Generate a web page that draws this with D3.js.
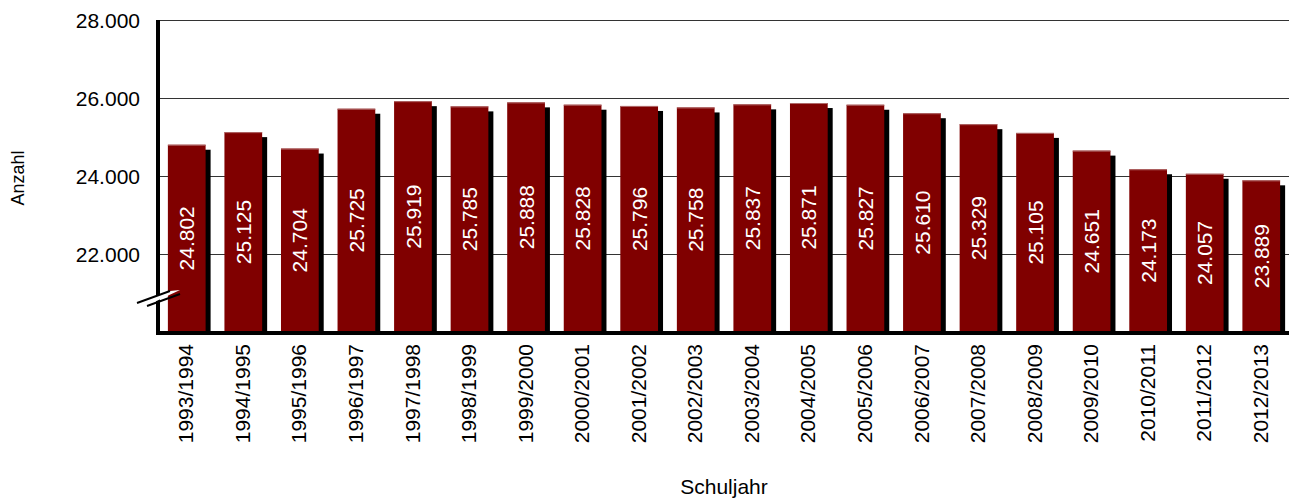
<!DOCTYPE html>
<html>
<head>
<meta charset="utf-8">
<script src="https://cdn.jsdelivr.net/npm/d3@7"></script>
<style>
    body { margin: 0; background: #fff; }
    text { font-family: "Liberation Sans", Arial, sans-serif; }
</style>
</head>
<body>
<div id="chart"></div>
<script>
// school years and pupil counts
const years = ["1993/1994", "1994/1995", "1995/1996", "1996/1997", "1997/1998", "1998/1999",
    "1999/2000", "2000/2001", "2001/2002", "2002/2003", "2003/2004", "2004/2005", "2005/2006",
    "2006/2007", "2007/2008", "2008/2009", "2009/2010", "2010/2011", "2011/2012", "2012/2013"];
const counts = [24802, 25125, 24704, 25725, 25919, 25785, 25888, 25828, 25796, 25758,
    25837, 25871, 25827, 25610, 25329, 25105, 24651, 24173, 24057, 23889];
const yTicks = [22000, 24000, 26000, 28000];

const width = 1289, height = 499;
const plotLeft = 159, plotRight = 1289, plotTop = 20, base = 332;

const de = d3.formatLocale({ decimal: ",", thousands: ".", grouping: [3], currency: ["", " €"] });
const fmt = de.format(",d");

const svg = d3.select("#chart")
    .append("svg")
    .attr("width", width)
    .attr("height", height);

const x = d3.scaleBand()
    .domain(years)
    .range([plotLeft, plotRight])
    .paddingInner(0.333)
    .paddingOuter(0.157);

const y = d3.scaleLinear()
    .domain([20000, 28000])
    .range([base, plotTop]);

const data = years.map((yr, i) => ({ year: yr, value: counts[i] }));

// gridlines
svg.append("g")
    .selectAll("line")
    .data(yTicks)
    .enter()
    .append("line")
    .attr("x1", plotLeft)
    .attr("x2", plotRight)
    .attr("y1", (d) => Math.round(y(d)) + 0.5)
    .attr("y2", (d) => Math.round(y(d)) + 0.5)
    .attr("stroke", "#333")
    .attr("stroke-width", 1);

// y tick labels
svg.append("g")
    .selectAll("text")
    .data(yTicks)
    .enter()
    .append("text")
    .attr("x", 140)
    .attr("y", (d) => y(d))
    .attr("dy", "0.36em")
    .attr("text-anchor", "end")
    .attr("font-size", 21)
    .attr("fill", "#000")
    .text((d) => fmt(d));

// shadows
svg.append("g")
    .selectAll("rect")
    .data(data)
    .enter()
    .append("rect")
    .attr("x", (d) => x(d.year) + 5)
    .attr("y", (d) => y(d.value) + 5)
    .attr("width", x.bandwidth())
    .attr("height", (d) => base - y(d.value) - 5)
    .attr("fill", "#000");

// bars
svg.append("g")
    .selectAll("rect")
    .data(data)
    .enter()
    .append("rect")
    .attr("x", (d) => x(d.year))
    .attr("y", (d) => y(d.value))
    .attr("width", x.bandwidth())
    .attr("height", (d) => base - y(d.value))
    .attr("fill", "#800000");

// thin light edge on bar tops
svg.append("g")
    .selectAll("line")
    .data(data)
    .enter()
    .append("line")
    .attr("x1", (d) => x(d.year))
    .attr("x2", (d) => x(d.year) + x.bandwidth())
    .attr("y1", (d) => y(d.value) + 0.5)
    .attr("y2", (d) => y(d.value) + 0.5)
    .attr("stroke", "#b06a6a")
    .attr("stroke-width", 1);

// value labels inside bars
svg.append("g")
    .selectAll("text")
    .data(data)
    .enter()
    .append("text")
    .attr("transform", (d) => {
        const cx = x(d.year) + x.bandwidth() / 2;
        const cy = (y(d.value) + base) / 2;
        return `translate(${cx},${cy}) rotate(-90)`;
    })
    .attr("dy", "0.36em")
    .attr("text-anchor", "middle")
    .attr("font-size", 21)
    .attr("fill", "#fff")
    .text((d) => fmt(d.value));

// axes (thick black)
svg.append("line")
    .attr("x1", 158).attr("x2", 158)
    .attr("y1", plotTop).attr("y2", base + 2)
    .attr("stroke", "#000")
    .attr("stroke-width", 4);

svg.append("line")
    .attr("x1", 156).attr("x2", plotRight)
    .attr("y1", base + 1).attr("y2", base + 1)
    .attr("stroke", "#000")
    .attr("stroke-width", 4);

// axis break mark
svg.append("polygon")
    .attr("points", "137,303 170,291 180,290 148,305")
    .attr("fill", "#fff");
svg.append("line")
    .attr("x1", 137).attr("y1", 303).attr("x2", 170).attr("y2", 291)
    .attr("stroke", "#000").attr("stroke-width", 2);
svg.append("line")
    .attr("x1", 147).attr("y1", 306).attr("x2", 180).attr("y2", 294)
    .attr("stroke", "#000").attr("stroke-width", 2);

// x tick labels
svg.append("g")
    .selectAll("text")
    .data(years)
    .enter()
    .append("text")
    .attr("transform", (d) => `translate(${x(d) + x.bandwidth() / 2 - 1},344) rotate(-90)`)
    .attr("dy", "0.36em")
    .attr("text-anchor", "end")
    .attr("font-size", 21)
    .attr("fill", "#000")
    .text((d) => d);

// axis titles
svg.append("text")
    .attr("transform", "translate(18,178) rotate(-90)")
    .attr("dy", "0.36em")
    .attr("text-anchor", "middle")
    .attr("font-size", 18)
    .text("Anzahl");

svg.append("text")
    .attr("x", 724)
    .attr("y", 494)
    .attr("text-anchor", "middle")
    .attr("font-size", 21)
    .text("Schuljahr");
</script>
</body>
</html>
